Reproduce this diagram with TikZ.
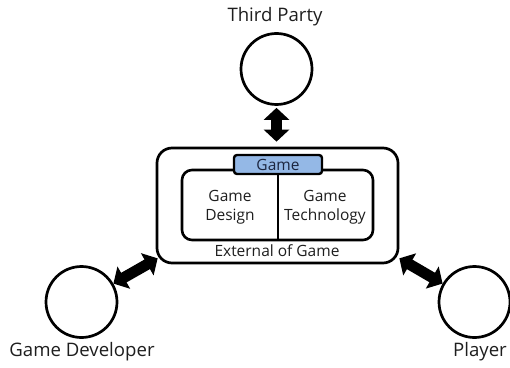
\documentclass[tikz,border=0pt]{standalone}
\usepackage{fontspec}
\setmainfont{Open Sans}
\usetikzlibrary{arrows.meta,calc}
\definecolor{gamefill}{RGB}{148,184,230}
\definecolor{gametext}{RGB}{28,38,64}
\definecolor{labeltext}{RGB}{30,30,30}
\tikzset{
  actor/.style={circle, draw=black, line width=2.7pt, minimum size=71pt, inner sep=0pt},
  actorlabel/.style={font=\fontsize{18.6}{20}\selectfont, text=labeltext},
  frame/.style={draw=black, line width=2.7pt, rounded corners=15pt},
  innerframe/.style={draw=black, line width=2.6pt, rounded corners=10pt},
  tag/.style={draw=black, line width=2.4pt, rounded corners=3pt, fill=gamefill,
    minimum width=88pt, minimum height=19pt, inner sep=0pt,
    font=\fontsize{15.5}{16}\selectfont, text=gametext},
  part/.style={align=center, font=\fontsize{15.5}{18.5}\selectfont, text=labeltext},
  bigarrow/.style={line width=11pt,
    {Triangle[length=12pt,width=25pt]}-{Triangle[length=12pt,width=25pt]}},
}
\begin{document}
\begin{tikzpicture}[x=1pt,y=1pt]
\useasboundingbox (0,0) rectangle (510,367);

% surrounding frame and the two parts of the game
\node[frame, minimum width=241pt, minimum height=115pt] (outer) at (277.5,161.5) {};
\node[innerframe, minimum width=191pt, minimum height=70pt] (inner) at (277.5,162) {};
\draw[line width=2pt] (inner.north) -- (inner.south);
\node[part] (design) at (230,160) {Game\\Design};
\node[part] (tech) at (325,160) {Game\\Technology};
\node[tag] (game) at (278,202.5) {Game};
\node[part] (external) at (277,116.5) {External of Game};

% stakeholders
\node[actor] (third) at (276.5,298) {};
\node[actorlabel] (thirdlbl) at (275,350) {Third Party};
\node[actor] (dev) at (81.5,65) {};
\node[actorlabel] (devlbl) at (82,15) {Game Developer};
\node[actor] (player) at (474.5,65) {};
\node[actorlabel] (playerlbl) at (480,15) {Player};

% two-way links
\draw[bigarrow] ($(third.south)+(0,-2)$) -- ($(outer.north)+(-1,5)$);
\draw[bigarrow] (dev.30) -- ($(outer.south west)+(2,6)$);
\draw[bigarrow] ($(outer.south east)+(0,6)$) -- (player.150);
\end{tikzpicture}
\end{document}
